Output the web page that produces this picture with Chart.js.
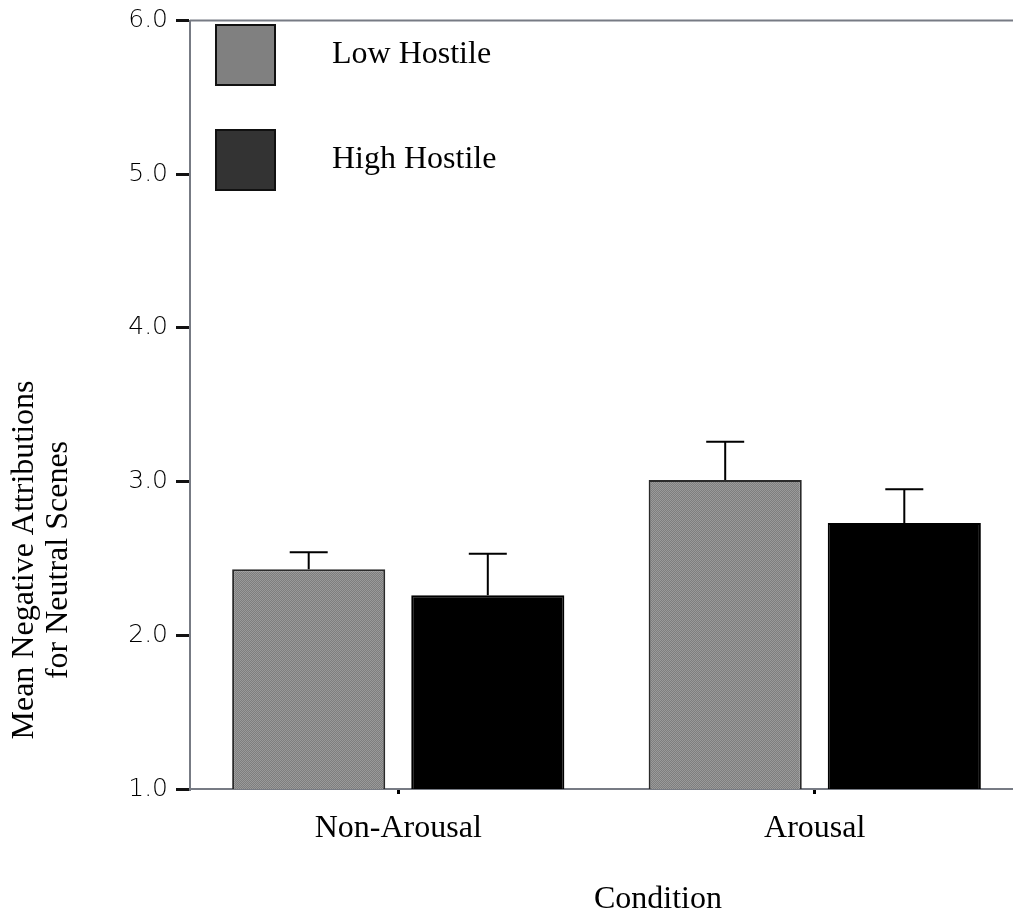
<!DOCTYPE html>
<html>
<head>
<meta charset="utf-8">
<script src="https://cdn.jsdelivr.net/npm/chart.js@4"></script>
<style>
  html, body { margin: 0; padding: 0; background: #fff; }
  #wrap { width: 1013px; height: 917px; overflow: hidden; }
</style>
</head>
<body>
<div id="wrap"><canvas id="barChart" width="1023" height="917"></canvas></div>
<script>
// Data
var conditions = ['Non-Arousal', 'Arousal'];
var seriesNames = ['Low Hostile', 'High Hostile'];
var lowHostile = [2.43, 3.01];
var highHostile = [2.26, 2.73];
var lowHostileErr = [0.11, 0.25];
var highHostileErr = [0.27, 0.22];
var yTicks = [1, 2, 3, 4, 5, 6];

var serif = '"Liberation Serif", "Times New Roman", serif';

// grey stipple fill like the original
function stipple() {
    var c = document.createElement('canvas');
    c.width = 2; c.height = 2;
    var g = c.getContext('2d');
    g.fillStyle = '#7e7e7e'; g.fillRect(0, 0, 2, 2);
    g.fillStyle = '#9a9a9a'; g.fillRect(0, 0, 1, 1); g.fillRect(1, 1, 1, 1);
    return g.createPattern(c, 'repeat');
}

// Error bars, legend, titles and top frame line
var extras = {
    id: 'extras',
    afterDatasetsDraw: function(chart) {
        var ctx = chart.ctx;
        var y = chart.scales.y;
        var errs = [lowHostileErr, highHostileErr];
        ctx.save();
        ctx.strokeStyle = '#000';
        ctx.lineWidth = 2;
        chart.data.datasets.forEach(function(ds, i) {
            chart.getDatasetMeta(i).data.forEach(function(bar, j) {
                var top = y.getPixelForValue(ds.data[j] + errs[i][j]);
                ctx.beginPath();
                ctx.moveTo(bar.x, bar.y);
                ctx.lineTo(bar.x, top);
                ctx.moveTo(bar.x - 19, top);
                ctx.lineTo(bar.x + 19, top);
                ctx.stroke();
            });
        });
        ctx.restore();
    },
    afterDraw: function(chart) {
        var ctx = chart.ctx;
        var area = chart.chartArea;
        ctx.save();
        // top frame line
        ctx.strokeStyle = '#777b84';
        ctx.lineWidth = 2;
        ctx.beginPath();
        ctx.moveTo(area.left, area.top);
        ctx.lineTo(chart.width, area.top);
        ctx.stroke();

        // legend
        var fills = ['#808080', '#333333'];
        var rows = [25, 130];
        ctx.font = '32px ' + serif;
        ctx.textBaseline = 'middle';
        ctx.textAlign = 'left';
        for (var i = 0; i < seriesNames.length; i++) {
            ctx.fillStyle = fills[i];
            ctx.fillRect(216, rows[i], 59, 60);
            ctx.strokeStyle = '#111';
            ctx.lineWidth = 2;
            ctx.strokeRect(216, rows[i], 59, 60);
            ctx.fillStyle = '#000';
            ctx.fillText(seriesNames[i], 332, rows[i] + 30);
        }

        // axis titles
        ctx.textAlign = 'center';
        ctx.fillText('Condition', 658, 900);
        ctx.translate(42, 560);
        ctx.rotate(-Math.PI / 2);
        ctx.fillText('Mean Negative Attributions', 0, -17);
        ctx.fillText('for Neutral Scenes', 0, 17);
        ctx.restore();
    }
};

var ctx = document.getElementById('barChart').getContext('2d');
var barChart = new Chart(ctx, {
    type: 'bar',
    data: {
        labels: conditions,
        datasets: [{
            label: seriesNames[0],
            data: lowHostile,
            backgroundColor: stipple(),
            borderColor: '#2a2a2a',
            borderWidth: 2,
            categoryPercentage: 0.86,
            barPercentage: 0.855
        }, {
            label: seriesNames[1],
            data: highHostile,
            backgroundColor: '#000',
            borderColor: '#000',
            borderWidth: 2,
            categoryPercentage: 0.86,
            barPercentage: 0.855
        }]
    },
    options: {
        responsive: false,
        animation: false,
        layout: { padding: { top: 20, right: 0, left: 0, bottom: 0 } },
        plugins: {
            legend: { display: false },
            tooltip: { enabled: false }
        },
        scales: {
            x: {
                grid: {
                    offset: false,
                    drawOnChartArea: false,
                    tickLength: 5,
                    lineWidth: 3,
                    color: '#000'
                },
                border: { color: '#777b84', width: 2 },
                ticks: {
                    color: '#000',
                    padding: 15,
                    font: { family: serif, size: 32 }
                },
                afterFit: function(scale) { scale.height = 128; }
            },
            y: {
                min: 1,
                max: 6,
                afterBuildTicks: function(scale) {
                    scale.ticks = yTicks.map(function(v) { return { value: v }; });
                },
                grid: {
                    drawOnChartArea: false,
                    tickLength: 14,
                    lineWidth: 3,
                    color: '#111'
                },
                border: { color: '#777b84', width: 2 },
                ticks: {
                    color: '#000',
                    padding: 8,
                    font: { family: '"DejaVu Sans", sans-serif', size: 25, weight: 200, lineHeight: 1 },
                    callback: function(v) { return Number(v).toFixed(1); }
                },
                afterFit: function(scale) { scale.width = 190; }
            }
        }
    },
    plugins: [extras]
});
</script>
</body>
</html>
